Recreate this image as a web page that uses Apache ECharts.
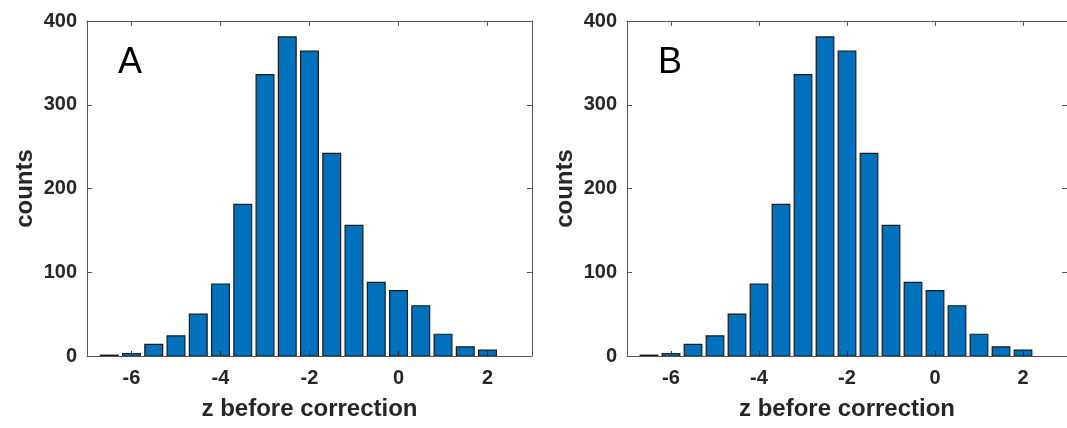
<!DOCTYPE html>
<html>
<head>
<meta charset="utf-8">
<script src="https://cdn.jsdelivr.net/npm/echarts@6/dist/echarts.min.js"></script>
<style>
html,body{margin:0;padding:0;background:#fff;}
#c{width:1067px;height:428px;}
</style>
</head>
<body>
<div id="c"></div>
<script>
// ---- data ----
var binCenters = [-6.5, -6, -5.5, -5, -4.5, -4, -3.5, -3, -2.5, -2, -1.5, -1, -0.5, 0, 0.5, 1, 1.5, 2];
var countsA = [1, 3, 14, 24, 50, 86, 181, 336, 381, 364, 242, 156, 88, 78, 60, 26, 11, 7];
var countsB = [1, 3, 14, 24, 50, 86, 181, 336, 381, 364, 242, 156, 88, 78, 60, 26, 11, 7];
var xTicks = [-6, -4, -2, 0, 2];
var yTicks = [0, 100, 200, 300, 400];
var panelLabels = ['A', 'B'];
var binWidth = 0.5;
var barFraction = 0.8;

var FONT = '"Liberation Sans", Arial, sans-serif';
var TXT = '#262626';
var AX = '#555555';

var chart = echarts.init(document.getElementById('c'), null, {renderer: 'canvas'});

var grids = [
  {left: 87, top: 21, width: 445, height: 335},
  {left: 627, top: 21, width: 445, height: 335}
];

var xAxes = [], yAxes = [], series = [], graphics = [];
[countsA, countsB].forEach(function (counts, g) {
  xAxes.push({
    type: 'value', gridIndex: g, position: 'bottom', min: -7, max: 3, z: 5,
    name: 'z before correction', nameLocation: 'middle', nameGap: 41,
    nameTextStyle: {fontFamily: FONT, fontWeight: 'bold', fontSize: 24, color: TXT},
    axisLine: {show: true, onZero: false, lineStyle: {color: AX, width: 1}},
    axisTick: {show: true, inside: true, length: 5, customValues: xTicks, lineStyle: {color: TXT, width: 1}},
    axisLabel: {show: true, customValues: xTicks, margin: 12, fontFamily: FONT, fontWeight: 'bold', fontSize: 20, color: TXT},
    splitLine: {show: false}
  });
  xAxes.push({
    type: 'value', gridIndex: g, position: 'top', min: -7, max: 3, z: 5,
    axisLine: {show: true, onZero: false, lineStyle: {color: AX, width: 1}},
    axisTick: {show: true, inside: true, length: 5, customValues: xTicks, lineStyle: {color: AX, width: 1}},
    axisLabel: {show: false},
    splitLine: {show: false}
  });
  yAxes.push({
    type: 'value', gridIndex: g, position: 'left', min: 0, max: 400, interval: 100, z: 5,
    name: 'counts', nameLocation: 'middle', nameGap: 50,
    nameTextStyle: {fontFamily: FONT, fontWeight: 'bold', fontSize: 24, color: TXT},
    axisLine: {show: true, onZero: false, lineStyle: {color: AX, width: 1}},
    axisTick: {show: true, inside: true, length: 5, lineStyle: {color: AX, width: 1}},
    axisLabel: {show: true, margin: 10, fontFamily: FONT, fontWeight: 'bold', fontSize: 20, color: TXT},
    splitLine: {show: false}
  });
  yAxes.push({
    type: 'value', gridIndex: g, position: 'right', min: 0, max: 400, interval: 100, z: 5,
    axisLine: {show: true, onZero: false, lineStyle: {color: AX, width: 1}},
    axisTick: {show: true, inside: true, length: 5, lineStyle: {color: AX, width: 1}},
    axisLabel: {show: false},
    splitLine: {show: false}
  });
  series.push({
    type: 'custom',
    xAxisIndex: g * 2, yAxisIndex: g * 2,
    data: binCenters.map(function (x, i) { return [x, counts[i]]; }),
    renderItem: function (params, api) {
      var x = api.value(0), y = api.value(1);
      var half = binWidth * barFraction / 2;
      var p0 = api.coord([x - half, y]);
      var p1 = api.coord([x + half, 0]);
      return {
        type: 'rect',
        shape: {x: p0[0], y: p0[1], width: p1[0] - p0[0], height: p1[1] - p0[1]},
        style: {fill: '#0072BD', stroke: '#1a1a1a', lineWidth: 1.2}
      };
    },
    z: 2
  });
  graphics.push({
    type: 'text', left: grids[g].left + 31, top: 45,
    style: {text: panelLabels[g], fontFamily: FONT, fontSize: 36, fill: '#000'}
  });
});

chart.setOption({
  backgroundColor: '#fff',
  animation: false,
  grid: grids,
  xAxis: xAxes,
  yAxis: yAxes,
  series: series,
  graphic: graphics
});
</script>
</body>
</html>
